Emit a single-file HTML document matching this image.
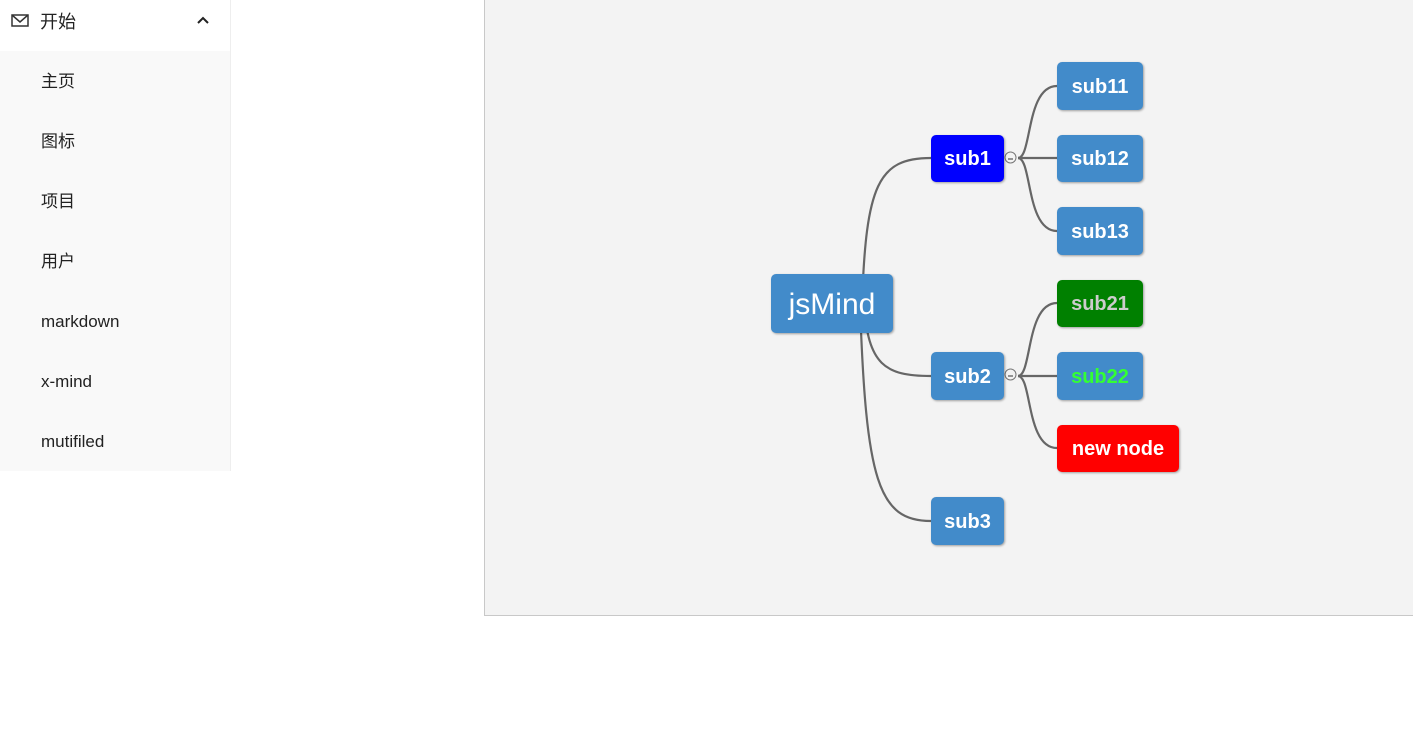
<!DOCTYPE html>
<html><head><meta charset="utf-8"><style>
html,body{margin:0;padding:0;width:1413px;height:743px;background:#fff;overflow:hidden;font-family:"Liberation Sans","Noto Sans CJK SC",sans-serif;}
.side{position:absolute;left:0;top:0;width:230px;height:471px;border-right:1px solid #eee;background:#f9f9f9;}
.head{position:absolute;left:0;top:0;width:230px;height:51px;background:#fff;}
.item{position:absolute;left:41px;font-size:17px;line-height:20px;color:#222;font-family:"Liberation Sans","Noto Sans CJK SC",sans-serif;}
.canvas{position:absolute;left:484px;top:0;width:929px;height:616px;background:#f3f3f3;border-left:1px solid #c8c8c8;border-bottom:1px solid #c8c8c8;box-sizing:border-box;}
.n{position:absolute;border-radius:5px;color:#fff;font-size:20px;font-weight:bold;display:flex;align-items:center;justify-content:center;box-shadow:1px 1px 2px rgba(0,0,0,.35);background:#428bca;font-family:"Liberation Sans",sans-serif;padding-top:2px;box-sizing:border-box;}
</style></head><body>
<div class="side"></div>
<div class="head"></div>
<svg style="position:absolute;left:11px;top:13px" width="18" height="16" viewBox="0 0 18 16"><rect x="1" y="2" width="16" height="11" fill="none" stroke="#333" stroke-width="1.5"/><path d="M1 2 L9 9 L17 2" fill="none" stroke="#333" stroke-width="1.5"/></svg>
<div class="item" style="top:12px;left:40px;font-size:18px">开始</div>
<svg style="position:absolute;left:196px;top:15px" width="14" height="10"><path d="M2 8 L7 3 L12 8" fill="none" stroke="#222" stroke-width="2"/></svg>
<div class="item" style="top:72px">主页</div>
<div class="item" style="top:132px">图标</div>
<div class="item" style="top:192px">项目</div>
<div class="item" style="top:252px">用户</div>
<div class="item" style="top:312px">markdown</div>
<div class="item" style="top:372px">x-mind</div>
<div class="item" style="top:432px">mutifiled</div>
<div class="canvas"></div>
<svg style="position:absolute;left:0;top:0" width="1413" height="743">
<g fill="none" stroke="#666" stroke-width="2.2">
<path d="M862 304 C866 185, 878 158, 931 158"/>
<path d="M864 304 C868 365, 885 376, 931 376"/>
<path d="M860 304 C866 480, 878 521, 931 521"/>
<path d="M1018 158 C1032 158 1026 86 1057 86"/>
<path d="M1018 158 L1057 158"/>
<path d="M1018 158 C1032 158 1026 231 1057 231"/>
<path d="M1018 376 C1032 376 1026 303 1057 303"/>
<path d="M1018 376 L1057 376"/>
<path d="M1018 376 C1032 376 1026 448 1057 448"/>
</g>
<g fill="#f3f3f3" stroke="#777" stroke-width="1"><circle cx="1010.5" cy="157.5" r="5.5"/><circle cx="1010.5" cy="374.5" r="5.5"/></g>
<g stroke="#333" stroke-width="1"><line x1="1008" y1="159" x2="1013" y2="159"/><line x1="1008" y1="376" x2="1013" y2="376"/></g>
</svg>
<div class="n" style="left:771px;top:274px;width:122px;height:59px;font-size:30px;font-weight:normal">jsMind</div>
<div class="n" style="left:931px;top:135px;width:73px;height:47px;background:#0000ff">sub1</div>
<div class="n" style="left:931px;top:352px;width:73px;height:48px">sub2</div>
<div class="n" style="left:931px;top:497px;width:73px;height:48px">sub3</div>
<div class="n" style="left:1057px;top:62px;width:86px;height:48px">sub11</div>
<div class="n" style="left:1057px;top:135px;width:86px;height:47px">sub12</div>
<div class="n" style="left:1057px;top:207px;width:86px;height:48px">sub13</div>
<div class="n" style="left:1057px;top:280px;width:86px;height:47px;background:#008000;color:#ccc">sub21</div>
<div class="n" style="left:1057px;top:352px;width:86px;height:48px;color:#33ff33">sub22</div>
<div class="n" style="left:1057px;top:425px;width:122px;height:47px;background:#ff0000">new node</div>
</body></html>
